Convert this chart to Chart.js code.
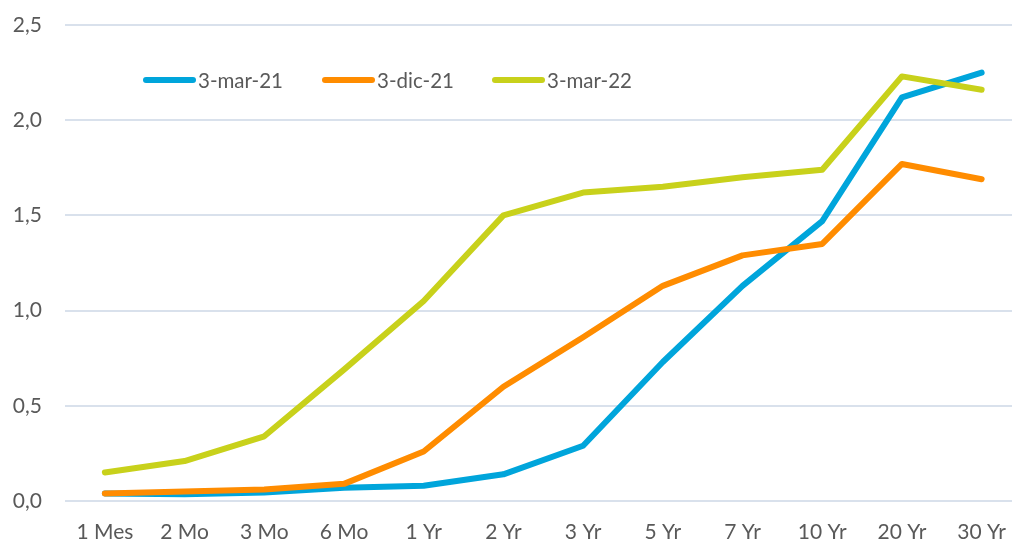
<!DOCTYPE html>
<html>
<head>
    <title>Curva de rendimientos</title>
    <script src="https://cdn.jsdelivr.net/npm/chart.js"></script>
    <style>
        body { margin: 0; overflow: hidden; background: #fff; }
        #wrap { width: 1025px; height: 542px; }
    </style>
</head>
<body>
    <div id="wrap">
        <canvas id="myChart"></canvas>
    </div>

    <script>
        const plazos = ['1 Mes', '2 Mo', '3 Mo', '6 Mo', '1 Yr', '2 Yr', '3 Yr', '5 Yr', '7 Yr', '10 Yr', '20 Yr', '30 Yr'];
        const mar21 = [0.04, 0.035, 0.045, 0.07, 0.08, 0.14, 0.29, 0.73, 1.13, 1.47, 2.12, 2.25];
        const dic21 = [0.04, 0.05, 0.06, 0.09, 0.26, 0.60, 0.86, 1.13, 1.29, 1.35, 1.77, 1.69];
        const mar22 = [0.15, 0.21, 0.34, 0.69, 1.05, 1.50, 1.62, 1.65, 1.70, 1.74, 2.23, 2.16];

        const fuente = 'Lato, "Open Sans", sans-serif';
        const gris = '#595959';

        // legend drawn inside the plot, on one row
        const leyenda = {
            id: 'leyenda',
            afterDatasetsDraw(chart) {
                const ctx = chart.ctx;
                const xs = [143, 322, 492];
                const y = 80;
                ctx.save();
                ctx.font = '20.5px ' + fuente;
                ctx.textBaseline = 'middle';
                ctx.lineCap = 'round';
                ctx.lineWidth = 6;
                chart.data.datasets.forEach((ds, i) => {
                    ctx.strokeStyle = ds.borderColor;
                    ctx.beginPath();
                    ctx.moveTo(xs[i] + 3, y);
                    ctx.lineTo(xs[i] + 50, y);
                    ctx.stroke();
                    ctx.fillStyle = gris;
                    ctx.fillText(ds.label, xs[i] + 55, y + 1);
                });
                ctx.restore();
            }
        };

        const serie = (label, data, color, order) => ({
            label: label,
            data: data,
            borderColor: color,
            backgroundColor: color,
            borderWidth: 6,
            borderCapStyle: 'round',
            borderJoinStyle: 'round',
            pointRadius: 0,
            tension: 0,
            order: order
        });

        new Chart(document.getElementById('myChart'), {
            type: 'line',
            data: {
                labels: plazos,
                datasets: [
                    serie('3-mar-21', mar21, '#00A5DB', 2),
                    serie('3-dic-21', dic21, '#FF8C00', 1),
                    serie('3-mar-22', mar22, '#C8D11B', 0)
                ]
            },
            options: {
                responsive: true,
                maintainAspectRatio: false,
                animation: false,
                layout: { padding: { left: 0, top: 25, right: 0, bottom: 0 } },
                plugins: {
                    legend: { display: false },
                    tooltip: { enabled: false }
                },
                scales: {
                    x: {
                        offset: true,
                        grid: { display: false, drawTicks: false },
                        border: { display: false },
                        ticks: {
                            color: gris,
                            font: { family: fuente, size: 21 },
                            padding: 19,
                            maxRotation: 0,
                            autoSkip: false
                        },
                        afterFit: s => { s.height = 41; }
                    },
                    y: {
                        min: 0,
                        max: 2.5,
                        grid: { color: '#D9E1EC', lineWidth: 2, drawTicks: false },
                        border: { display: false },
                        ticks: {
                            stepSize: 0.5,
                            color: gris,
                            font: { family: fuente, size: 21 },
                            padding: 23,
                            callback: v => v.toFixed(1).replace('.', ',')
                        },
                        afterFit: s => {
                            s.width = 65;
                            s.paddingTop = 0;
                            s.paddingBottom = 0;
                        }
                    }
                }
            },
            plugins: [leyenda]
        });
    </script>
</body>
</html>
